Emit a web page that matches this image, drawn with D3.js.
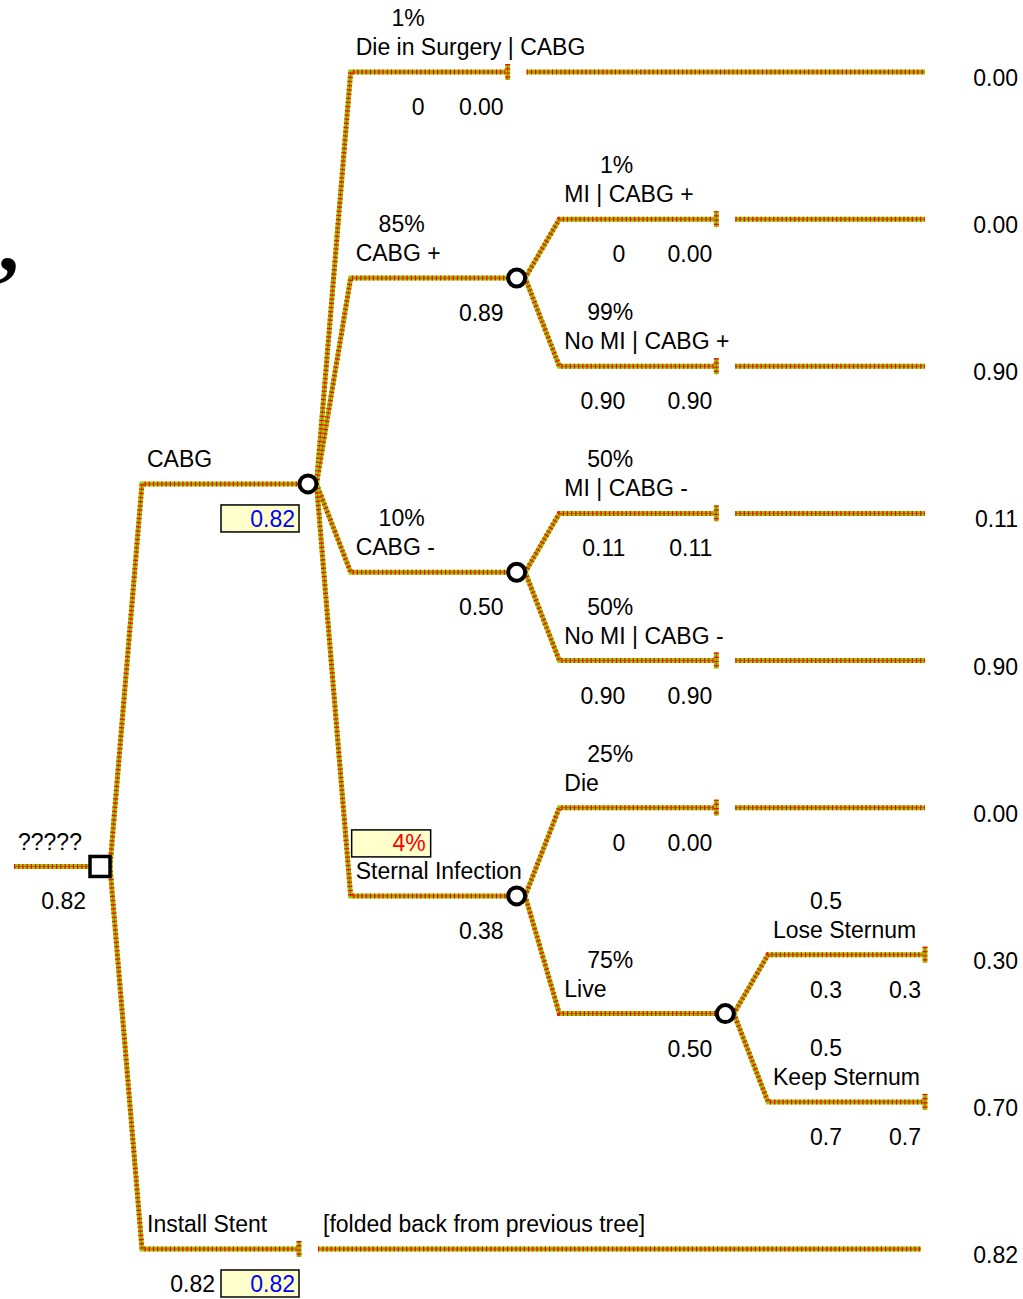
<!DOCTYPE html>
<html>
<head>
<meta charset="utf-8">
<script src="https://cdn.jsdelivr.net/npm/d3@7"></script>
<style>
  body { margin: 0; background: #fff; }
  svg { display: block; }
  text { font-family: "Liberation Sans", Arial, sans-serif; font-size: 23px; fill: #000; }
</style>
</head>
<body>
<svg id="chart" width="1023" height="1299"></svg>
<script>
// ---- data ----
const nodeIds     = ["root", "cabg", "dieSurg", "cabgPlus", "miPlus", "noMiPlus", "cabgMinus", "miMinus", "noMiMinus", "sternal", "die", "live", "lose", "keep", "stent"];
const nodeParents = ["",     "root", "cabg",    "cabg",     "cabgPlus", "cabgPlus", "cabg",    "cabgMinus", "cabgMinus", "cabg",  "sternal", "sternal", "live", "live", "root"];
const nodeNames   = ["?????", "CABG", "Die in Surgery | CABG", "CABG +", "MI | CABG +", "No MI | CABG +", "CABG -", "MI | CABG -", "No MI | CABG -", "Sternal Infection", "Die", "Live", "Lose Sternum", "Keep Sternum", "Install Stent"];
const nodeProbs   = ["", "", "1%", "85%", "1%", "99%", "10%", "50%", "50%", "4%", "25%", "75%", "0.5", "0.5", ""];
const nodeKinds   = ["decision", "chance", "terminal", "chance", "terminal", "terminal", "chance", "terminal", "terminal", "chance", "terminal", "chance", "terminal", "terminal", "terminal"];
const nodePayoffs = ["", "", "0", "", "0", "0.90", "", "0.11", "0.90", "", "0", "", "0.3", "0.7", "0.82"];
const nodeValues  = ["0.82", "0.82", "0.00", "0.89", "0.00", "0.90", "0.50", "0.11", "0.90", "0.38", "0.00", "0.50", "0.3", "0.7", "0.82"];
const leafResults = { dieSurg: 0.00, miPlus: 0.00, noMiPlus: 0.90, miMinus: 0.11, noMiMinus: 0.90, die: 0.00, lose: 0.30, keep: 0.70, stent: 0.82 };
const boxedProbs  = ["sternal"];
const boxedValues = ["cabg", "stent"];
const leafNotes   = { stent: "[folded back from previous tree]" };

// ---- style ----
const RED = "#ff0000", GREEN = "#99cc00", BOXFILL = "#ffffcc", BLUE = "#0000ff";

const svg = d3.select("#chart");

const table = nodeIds.map((id, i) => ({
  id, parent: nodeParents[i] || null, name: nodeNames[i], prob: nodeProbs[i],
  kind: nodeKinds[i], payoff: nodePayoffs[i], value: nodeValues[i]
}));
const root = d3.stratify().id(d => d.id).parentId(d => d.parent)(table);

// slot layout: leaves evenly spaced, top to bottom
let slot = 0;
root.eachAfter(n => {
  if (!n.children) { n.slot = slot++; }
  else {
    const a = n.children[0].slot, b = n.children[n.children.length - 1].slot;
    n.slot = (a + b) / 2 - (n.depth >= 2 ? 0.1 : 0);
  }
});
const y = d3.scaleLinear().domain([0, slot - 1]).range([72, 1249]);
const xStart = d3.scaleLinear().domain([1, 4]).range([142, 768]);
const NODE_OFF = 166, TICK_OFF = 157, END_X = 925, ROOT_X = 100, R = 8.5;

root.each(n => {
  n.y = y(n.slot);
  if (n.depth === 0) { n.x0 = 14; n.nx = ROOT_X; }
  else { n.x0 = xStart(n.depth); n.nx = n.x0 + NODE_OFF; }
});

const gLines = svg.append("g");
function styledPath(d) {
  gLines.append("path").attr("d", d).attr("fill", "none").attr("stroke", GREEN).attr("stroke-width", 5);
  gLines.append("path").attr("d", d).attr("fill", "none").attr("stroke", RED).attr("stroke-width", 1).attr("stroke-opacity", 0.55);
  gLines.append("path").attr("d", d).attr("fill", "none").attr("stroke", RED).attr("stroke-width", 5).attr("stroke-dasharray", "1.2,3");
}

// root incoming line
styledPath(d3.line()([[14, root.y], [ROOT_X - 9, root.y]]));

root.descendants().forEach(n => {
  if (!n.parent) return;
  const p = n.parent;
  const px = p.nx + (p.data.kind === "decision" ? 10 : R);
  const isLeaf = n.data.kind === "terminal";
  const deepest = n.depth === 4;
  const endX = isLeaf ? (deepest ? END_X : n.x0 + TICK_OFF) : n.nx - R;
  styledPath(d3.line()([[px, p.y], [n.x0, n.y], [endX, n.y]]));
  if (isLeaf) {
    styledPath(d3.line()([[endX, n.y - 8], [endX, n.y + 8]]));
    if (!deepest) {
      const extEnd = n.depth === 1 ? 921 : END_X;
      styledPath(d3.line()([[endX + 19, n.y], [extEnd, n.y]]));
    }
  }
});

// nodes
const gNodes = svg.append("g");
root.descendants().forEach(n => {
  if (n.data.kind === "chance") {
    gNodes.append("circle").attr("cx", n.nx).attr("cy", n.y).attr("r", R)
      .attr("fill", "#fff").attr("stroke", "#000").attr("stroke-width", 4);
  } else if (n.data.kind === "decision") {
    gNodes.append("rect").attr("x", n.nx - 10).attr("y", n.y - 10).attr("width", 20).attr("height", 20)
      .attr("fill", "#fff").attr("stroke", "#000").attr("stroke-width", 3.5);
  }
});

// labels
const gText = svg.append("g");
function txt(x, yy, s, anchor, color) {
  return gText.append("text").attr("x", x).attr("y", yy).attr("text-anchor", anchor || "start")
    .style("fill", color || "#000").text(s);
}
function box(x, yy, w, h) {
  gText.append("rect").attr("x", x).attr("y", yy).attr("width", w).attr("height", h)
    .attr("fill", BOXFILL).attr("stroke", "#000").attr("stroke-width", 1.5);
}
const fmt = d3.format(".2f");

root.descendants().forEach(n => {
  const d = n.data;
  if (n.depth === 0) {
    txt(18, n.y - 16, d.name);
    txt(86, n.y + 43, d.value, "end");
    return;
  }
  const s = n.x0;
  const firstOff = n.depth === 3 ? 66 : 74;
  txt(s + 5, n.y - 17, d.name);
  if (d.prob) {
    if (boxedProbs.includes(d.id)) {
      box(s + 1, n.y - 66, 79, 27);
      txt(s + 75, n.y - 45, d.prob, "end", RED);
    } else {
      txt(s + 74, n.y - 46, d.prob, "end");
    }
  }
  if (boxedValues.includes(d.id)) {
    box(s + 79, n.y + 21, 78, 27);
    txt(s + 153, n.y + 43, d.value, "end", BLUE);
    if (d.payoff) txt(s + firstOff - 1, n.y + 43, d.payoff, "end");
  } else if (d.kind === "terminal") {
    txt(s + firstOff, n.y + 43, d.payoff, "end");
    txt(s + 153, n.y + 43, d.value, "end");
  } else {
    txt(s + 153, n.y + 43, d.value, "end");
  }
  if (leafNotes[d.id]) txt(323, n.y - 17, leafNotes[d.id]);
  if (d.kind === "terminal") txt(1018, n.y + 14, fmt(leafResults[d.id]), "end");
});

// stray glyph at the left edge
gText.append("text").attr("x", -2).attr("y", 270)
  .style("font-family", "'Liberation Serif', serif").style("font-size", "84px").style("font-weight", "bold").text(",");
</script>
</body>
</html>
